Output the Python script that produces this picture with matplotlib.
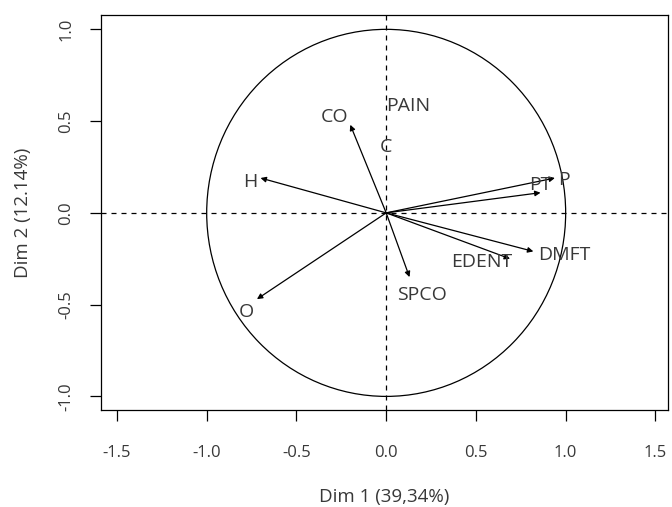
import matplotlib.pyplot as plt
import numpy as np
from matplotlib.patches import Circle

# variable coordinates on the first two dimensions
variables = ["CO", "H", "O", "PT", "P", "DMFT", "EDENT", "SPCO"]
dim1 = [-0.20, -0.70, -0.72, 0.86, 0.94, 0.82, 0.69, 0.13]
dim2 = [0.48, 0.19, -0.47, 0.11, 0.19, -0.21, -0.25, -0.35]

# label positions (text placed beside the arrow tips)
label_names = ["CO", "PAIN", "C", "H", "O", "PT", "P", "DMFT", "EDENT", "SPCO"]
label_x = [-0.29, 0.12, 0.0, -0.76, -0.78, 0.86, 0.99, 0.99, 0.53, 0.20]
label_y = [0.52, 0.58, 0.36, 0.17, -0.54, 0.15, 0.18, -0.23, -0.27, -0.45]

xticks = [-1.5, -1.0, -0.5, 0.0, 0.5, 1.0, 1.5]
yticks = [-1.0, -0.5, 0.0, 0.5, 1.0]

txt = "#383838"
plt.rcParams["font.family"] = ["Open Sans", "DejaVu Sans"]

fig = plt.figure(figsize=(6.72, 5.07), dpi=100)
ax = fig.add_axes([0.150, 0.191, 0.844, 0.779])
ax.set_xlim(-1.59, 1.57)
ax.set_ylim(-1.075, 1.077)

ax.add_patch(Circle((0, 0), 1, fill=False, color="black", lw=0.9))
ax.axhline(0, color="black", ls=(0, (4, 4)), lw=0.9)
ax.axvline(0, color="black", ls=(0, (4, 4)), lw=0.9)

for name, x, y in zip(variables, dim1, dim2):
    ax.annotate("", xy=(x, y), xytext=(0, 0),
                arrowprops=dict(arrowstyle="-|>", color="black", lw=0.9,
                                mutation_scale=8, shrinkA=0, shrinkB=0))

for name, x, y in zip(label_names, label_x, label_y):
    ax.text(x, y, name, ha="center", va="center", fontsize=14, color=txt)

ax.set_xticks(xticks)
ax.set_xticklabels(["%.1f" % t for t in xticks])
ax.set_yticks(yticks)
ax.set_yticklabels(["%.1f" % t for t in yticks], rotation=90, va="center")
ax.tick_params(length=8, width=0.9, labelsize=12, labelcolor=txt, pad=17)
ax.tick_params(axis="y", pad=11)
for s in ax.spines.values():
    s.set_linewidth(0.9)

ax.set_xlabel("Dim 1 (39,34%)", fontsize=13.5, color=txt, labelpad=19.5)
ax.set_ylabel("Dim 2 (12.14%)", fontsize=13.5, color=txt, labelpad=19)

fig.savefig("out.png", dpi=100)
